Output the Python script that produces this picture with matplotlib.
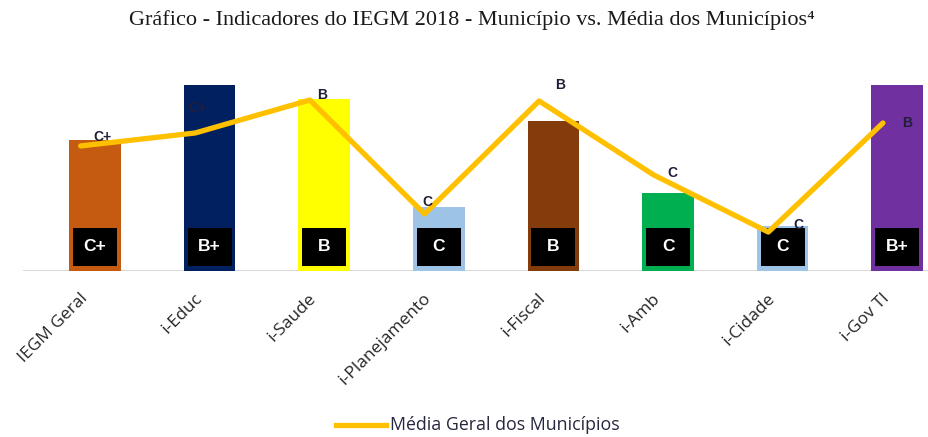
import matplotlib
matplotlib.use("Agg")
import matplotlib.pyplot as plt
from matplotlib.patches import Rectangle
from matplotlib.lines import Line2D
import matplotlib.transforms as mtransforms

# ---- data ----
categories = ["IEGM Geral", "i-Educ", "i-Saude", "i-Planejamento",
              "i-Fiscal", "i-Amb", "i-Cidade", "i-Gov TI"]
municipio_values = [0.565, 0.80, 0.74, 0.276, 0.647, 0.336, 0.194, 0.80]
municipio_grades = ["C+", "B+", "B", "C", "B", "C", "C", "B+"]
media_values = [0.539, 0.595, 0.737, 0.246, 0.733, 0.414, 0.168, 0.638]
media_grades = ["C+", "C+", "B", "C", "B", "C", "C", "B"]
bar_colors = ["#C55A11", "#002060", "#FFFF00", "#9DC3E6",
              "#843C0C", "#00B050", "#9DC3E6", "#7030A0"]
title = "Gráfico - Indicadores do IEGM 2018 - Município vs. Média dos Municípios"
legend_label = "Média Geral dos Municípios"

# ---- layout ----
W, H = 929, 437
fig = plt.figure(figsize=(W / 100, H / 100), dpi=100)
ax_left, ax_right, ax_bottom, ax_top = 23, 929, 271, 50
ax = fig.add_axes([ax_left / W, (H - ax_bottom) / H,
                   (ax_right - ax_left) / W, (ax_bottom - ax_top) / H])
ax.set_xlim(-0.628, 7.277)
ax.set_ylim(0, (ax_bottom - ax_top) / 232)
for s in ax.spines.values():
    s.set_visible(False)
ax.set_yticks([])

x = list(range(len(categories)))
ax.bar(x, municipio_values, width=0.45, color=bar_colors, zorder=2)
ax.axhline(0, color="#D9D9D9", lw=1.5, zorder=1)

# black grade boxes inside bars
for xi, g in zip(x, municipio_grades):
    ax.add_patch(Rectangle((xi - 0.192, 0.0216), 0.384, 0.164,
                           facecolor="black", edgecolor="none", zorder=3))
    ax.text(xi, 0.104, g, color="white", fontsize=12.5, fontweight="bold",
            family="Liberation Sans", ha="center", va="center", zorder=4)

# average line (slightly shifted left as in the original)
line_x = [xi - 0.125 for xi in x]
ax.plot(line_x, media_values, color="#FFC000", lw=3.8,
        solid_capstyle="round", solid_joinstyle="round", zorder=5)

label_offsets = [(22, 9), (2, 25), (12, 5), (3, 12), (21, 16),
                 (19, 2), (30, 7), (24, 0)]
for xi, v, g, (dx, dy) in zip(line_x, media_values, media_grades, label_offsets):
    ax.annotate(g, (xi, v), xytext=(dx * 0.72, dy * 0.72),
                textcoords="offset points", ha="center", va="center",
                fontsize=10, fontweight="bold", color="#1F1F3A",
                family="Liberation Sans", zorder=6)

# x tick labels, rotated
ax.set_xticks(x)
ax.set_xticklabels([])
ax.tick_params(axis="x", length=0)
for xi, c in zip(x, categories):
    trans = ax.get_xaxis_transform() + mtransforms.ScaledTranslation(
        -10 / 100, -25 / 100, fig.dpi_scale_trans)
    ax.text(xi, 0, c, transform=trans, rotation=45, rotation_mode="anchor",
            ha="right", va="center", fontsize=12.5, color="#262626",
            family="Open Sans")

# title
fig.text(472 / W, 1 - 20 / H, title + "\u2074", ha="center", va="center",
         fontsize=16, family="Liberation Serif", color="#1a1a1a")

# legend
fig.add_artist(Line2D([336 / W, 386 / W], [1 - 425 / H, 1 - 425 / H],
                      color="#FFC000", lw=3.8, transform=fig.transFigure))
fig.text(390 / W, 1 - 425 / H, legend_label, ha="left", va="center",
         fontsize=12.8, family="Open Sans", color="#262640")

fig.savefig("out.png", dpi=100)
